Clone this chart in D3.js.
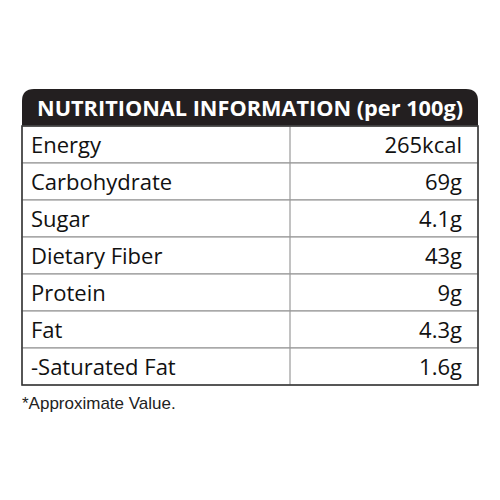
<!DOCTYPE html>
<html><head><meta charset="utf-8">
<script src="https://cdn.jsdelivr.net/npm/d3@7"></script>
<style>body{margin:0;background:#fff}</style>
</head><body>
<div id="chart"></div>
<script>
var title = "NUTRITIONAL INFORMATION (per 100g)";
var nutrients = ["Energy", "Carbohydrate", "Sugar", "Dietary Fiber", "Protein", "Fat", "-Saturated Fat"];
var amounts = ["265kcal", "69g", "4.1g", "43g", "9g", "4.3g", "1.6g"];
var note = "*Approximate Value.";

var W = 500, H = 500, left = 22, right = 478, top0 = 89, headH = 37, rowH = 37, split = 290;

var svg = d3.select("#chart").append("svg").attr("width", W).attr("height", H);

var y = d3.scaleBand().domain(nutrients).range([top0 + headH, top0 + headH + rowH * nutrients.length]);

// header with rounded top corners
var r = 12;
svg.append("path")
    .attr("d", "M" + left + "," + (top0 + headH) + "V" + (top0 + r) +
        "Q" + left + "," + top0 + " " + (left + r) + "," + top0 +
        "H" + (right - r) + "Q" + right + "," + top0 + " " + right + "," + (top0 + r) +
        "V" + (top0 + headH) + "Z")
    .attr("fill", "#231f20");
svg.append("text")
    .attr("x", (left + right) / 2).attr("y", top0 + headH / 2 + 8)
    .attr("text-anchor", "middle")
    .style("font-family", "Open Sans").style("font-weight", "bold").style("font-size", "22px")
    .attr("textLength", 426).attr("lengthAdjust", "spacingAndGlyphs")
    .attr("fill", "#fff").text(title);

var rows = svg.selectAll(".row").data(nutrients).enter().append("g").attr("class", "row");
rows.append("rect")
    .attr("x", left).attr("y", function(d) { return y(d); })
    .attr("width", right - left).attr("height", y.bandwidth())
    .attr("fill", "#fff").attr("stroke", "#999").attr("stroke-width", 1.2);
rows.append("text")
    .attr("x", left + 9).attr("y", function(d) { return y(d) + y.bandwidth() / 2 + 8; })
    .style("font-family", "Open Sans").style("font-size", "22px").attr("fill", "#111")
    .text(function(d) { return d; });
rows.append("text")
    .attr("x", right - 16).attr("y", function(d) { return y(d) + y.bandwidth() / 2 + 8; })
    .attr("text-anchor", "end")
    .style("font-family", "Open Sans").style("font-size", "22px").attr("fill", "#111")
    .text(function(d, i) { return amounts[i]; });

svg.append("line")
    .attr("x1", split).attr("x2", split)
    .attr("y1", y.range()[0]).attr("y2", y.range()[1])
    .attr("stroke", "#999").attr("stroke-width", 1.2);
svg.append("rect")
    .attr("x", left).attr("y", y.range()[0]).attr("width", right - left)
    .attr("height", y.range()[1] - y.range()[0])
    .attr("fill", "none").attr("stroke", "#333").attr("stroke-width", 1.5);

svg.append("text")
    .attr("x", left).attr("y", 409)
    .style("font-family", "Liberation Sans").style("font-size", "17px").attr("fill", "#222")
    .text(note);
</script>
</body></html>
